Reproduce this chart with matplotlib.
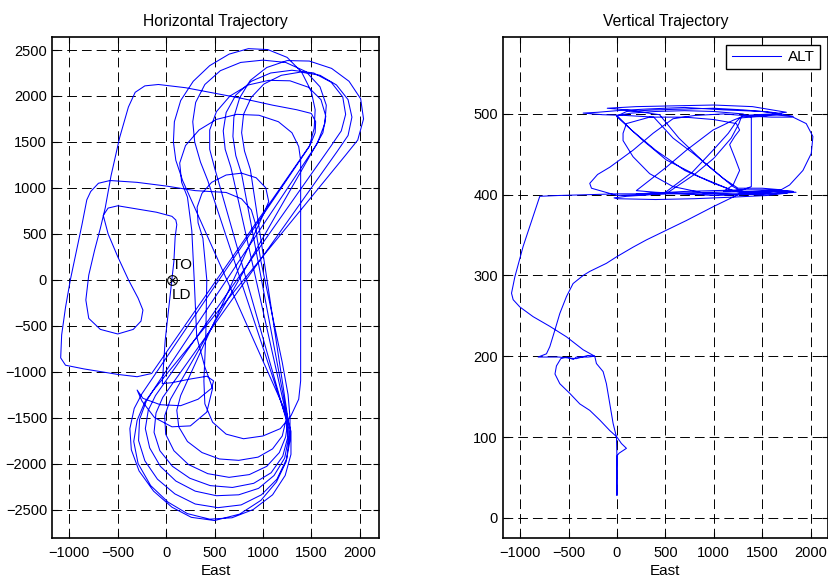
import numpy as np
import matplotlib
matplotlib.use("Agg")
import matplotlib.pyplot as plt

plt.rcParams['font.family'] = ['Liberation Sans', 'DejaVu Sans']
plt.rcParams['font.size'] = 10.5
plt.rcParams['lines.scale_dashes'] = False

# ---- horizontal track (east, north) ----
climb_e = [59, 80, 93, 110, 100, 60, -100, -300, -500, -600, -650, -600, -500, -390, -290, -240, -260, -340,
           -500, -680, -800, -830, -800, -740, -680, -630, -570, -480, -390, -320, -220, -80, 200, 500, 800,
           1100, 1350, 1500, 1545, 1540, 1490]
climb_n = [0, 200, 464, 600, 650, 690, 735, 770, 805, 780, 700, 500, 250, 0, -200, -330, -450, -540,
           -590, -540, -420, -220, 50, 320, 560, 780, 1130, 1550, 1880, 2040, 2110, 2125, 2090, 2030, 1970,
           1900, 1850, 1810, 1720, 1600, 1470]

box_e = [-150, -300, -500, -850, -1040, -1090, -1080, -1040, -990, -930, -870, -820, -780, -700, -580, -300,
         0, 300, 620, 780, 880, 920, 940, 980, 1040, 1120, 1200, 1260, 1280]
box_n = [-1020, -1055, -1030, -970, -930, -850, -600, -300, 0, 300, 600, 870, 960, 1050, 1080, 1060,
         1020, 970, 950, 880, 760, 620, 450, 200, -100, -500, -900, -1250, -1500]

lapA_bot_e = [1280, 1240, 1140, 980, 760, 500, 260, 60, -130, -280, -360, -375, -330, -250]
lapA_bot_n = [-1750, -1980, -2200, -2400, -2550, -2620, -2585, -2475, -2300, -2080, -1850, -1620, -1400, -1240]
lapA_top_e = [1480, 1530, 1540, 1500, 1400, 1250, 1050, 850, 650, 450, 280, 150, 85, 75, 100, 170]
lapA_top_n = [1450, 1650, 1850, 2050, 2260, 2420, 2505, 2515, 2455, 2330, 2160, 1950, 1720, 1500, 1300, 1080]

lapB_bot_e = [1240, 1290, 1290, 1230, 1100, 900, 680, 450, 220, 20, -160, -290, -335, -300, -220, -130]
lapB_bot_n = [-1450, -1650, -1900, -2130, -2340, -2500, -2590, -2605, -2545, -2420, -2240, -2000, -1760,
              -1530, -1330, -1200]
lapB_top_e = [1850, 1980, 2040, 2010, 1890, 1710, 1480, 1250, 1040, 870, 760, 700, 690, 720, 780]
lapB_top_n = [1350, 1520, 1750, 1970, 2160, 2300, 2380, 2385, 2310, 2170, 1980, 1770, 1560, 1350, 1150]

lapC_bot_e = [1250, 1275, 1245, 1145, 985, 775, 535, 300, 90, -90, -220, -285, -275, -205, -120]
lapC_bot_n = [-1480, -1700, -1950, -2170, -2340, -2450, -2480, -2440, -2330, -2170, -1970, -1750, -1520,
              -1320, -1180]
lapC_top_e = [1560, 1640, 1655, 1590, 1445, 1235, 1000, 770, 560, 400, 305, 275, 295, 355, 430]
lapC_top_n = [1480, 1700, 1900, 2100, 2265, 2365, 2390, 2365, 2275, 2125, 1930, 1720, 1500, 1280, 1080]

lapD_bot_e = [1240, 1265, 1225, 1115, 955, 750, 520, 300, 100, -60, -170, -215, -185, -110]
lapD_bot_n = [-1500, -1720, -1940, -2130, -2270, -2340, -2350, -2300, -2190, -2030, -1830, -1620, -1420, -1260]
lapD_top_e = [1700, 1810, 1855, 1825, 1705, 1525, 1300, 1080, 880, 720, 620, 590, 610, 670]
lapD_top_n = [1450, 1620, 1800, 1990, 2150, 2250, 2280, 2250, 2160, 2010, 1820, 1620, 1420, 1220]

lapE_bot_e = [1250, 1255, 1205, 1085, 905, 685, 455, 245, 65, -65, -125, -105, -35]
lapE_bot_n = [-1510, -1720, -1920, -2100, -2215, -2260, -2240, -2160, -2030, -1860, -1660, -1450, -1280]
lapE_top_e = [1770, 1880, 1920, 1880, 1760, 1590, 1390, 1190, 1010, 880, 800, 780, 810, 870]
lapE_top_n = [1400, 1570, 1770, 1960, 2120, 2225, 2260, 2225, 2130, 1985, 1800, 1600, 1400, 1200]

lapF_bot_e = [1260, 1235, 1170, 1040, 860, 650, 430, 230, 80, -5, -15, 45]
lapF_bot_n = [-1520, -1710, -1880, -2030, -2120, -2150, -2110, -2010, -1860, -1680, -1480, -1300]
lapF_top_e = [1530, 1620, 1650, 1600, 1470, 1280, 1060, 850, 660, 520, 450, 450, 500]
lapF_top_n = [1430, 1600, 1780, 1960, 2095, 2165, 2170, 2120, 2000, 1830, 1630, 1420, 1220]

lapG_bot_e = [1240, 1200, 1100, 950, 750, 550, 370, 220, 130, 110, 150]
lapG_bot_n = [-1520, -1700, -1840, -1930, -1965, -1950, -1880, -1760, -1600, -1420, -1260]
small_top_e = [1000, 1060, 1030, 930, 780, 620, 470, 370, 320, 330, 380]
small_top_n = [700, 850, 1000, 1110, 1160, 1140, 1060, 940, 790, 620, 450]

drop_e = [420, 410, 390, 400, 480, 620, 800, 1000, 1180, 1290, 1370, 1390, 1390, 1390, 1370, 1300, 1160,
          960, 730, 520, 340, 200, 140, 160, 220]
drop_n = [0, -600, -1100, -1350, -1550, -1680, -1730, -1700, -1620, -1480, -1300, -1100, 0, 1300, 1450,
          1600, 1720, 1790, 1800, 1745, 1630, 1460, 1270, 1060, 900]

final_e = [265, 290, 316, 400, 480, 420, 250, 60, -120, -250, -300, -240, -60, 150, 330, 470, 490, 420,
           250, 60, -40, -10, 59]
final_n = [536, 0, -620, -950, -1180, -1440, -1590, -1600, -1500, -1320, -1200, -1290, -1360, -1370, -1300,
           -1180, -1100, -1050, -1080, -1120, -1130, -660, 0]

east = np.concatenate([climb_e, box_e, lapA_bot_e, lapA_top_e, lapB_bot_e, lapB_top_e, lapC_bot_e,
                       lapC_top_e, lapD_bot_e, lapD_top_e, lapE_bot_e, lapE_top_e, lapF_bot_e, lapF_top_e,
                       lapG_bot_e, small_top_e, drop_e, final_e])
north = np.concatenate([climb_n, box_n, lapA_bot_n, lapA_top_n, lapB_bot_n, lapB_top_n, lapC_bot_n,
                        lapC_top_n, lapD_bot_n, lapD_top_n, lapE_bot_n, lapE_top_n, lapF_bot_n, lapF_top_n,
                        lapG_bot_n, small_top_n, drop_n, final_n])

to_e, to_n = 59, 0

# ---- vertical track (east, altitude) ----
up_e = [0, 0, 2, 22, 98, 46, 0, -74, -177, -281, -384, -487, -590, -640, -625, -580, -520, -450, -420, -300,
        -230, -300, -420, -600, -814, -728, -693, -642, -590, -521, -453, -349, -281, -109, -5, 166, 304, 510,
        648, 717, 992, 1198, 1267]
up_h = [28, 60, 77, 80, 86, 92, 100, 108, 121, 133, 141, 154, 166, 178, 188, 197, 199, 196, 199, 199,
        200, 201, 197, 199, 199, 203, 212, 232, 253, 274, 290, 300, 305, 315, 323, 335, 344, 356,
        364, 368, 385, 397, 401]

pass1_e = [1450, 1700, 1820, 1600, 1300, 1000, 700, 400, 200, 510, 717, 992, 1198, 1300, 1600, 1820, 1600,
           1300, 1000, 700, 400, 100, -5, 270, 510, 855, 1198, 1300, 1500, 1760, 1550, 1200, 800, 400, 0,
           -30, 100, 350, 490, 780, 992, 1150, 1230, 1270]
pass1_h = [403, 405, 404, 402, 400, 399, 401, 403, 405, 434, 455, 480, 492, 497, 499, 497, 502,
           505, 507, 506, 505, 503, 497, 467, 443, 422, 405, 402, 401, 402, 399, 397, 395, 394, 395,
           396, 398, 400, 402, 428, 455, 476, 490, 495]

pass2_e = [1500, 1700, 1500, 1100, 700, 300, 0, -200, -349, -150, 100, 380, 580, 800, 1000, 1200, 1300,
           1500, 1818, 1600, 1300, 1000, 700, 400, 200, 530, 800, 1000, 1180, 1260, 1290, 1600, 1750, 1400,
           1000, 600, 200, -100, 100, 440, 640, 900, 1100, 1250]
pass2_h = [497, 500, 503, 505, 508, 506, 504, 502, 501, 499, 498, 496, 470, 450, 430, 410, 403,
           404, 404, 406, 406, 405, 404, 402, 401, 403, 425, 445, 470, 488, 498, 500, 502, 509,
           511, 510, 509, 507, 505, 499, 470, 440, 420, 408]

pass3_e = [1500, 1700, 1400, 1000, 600, 300, 0, -177, -263, -281, -200, -74, 166, 373, 579, 800, 1100,
           1405, 1600, 1818, 1955, 2024, 2007, 1921, 1783, 1680, 1500, 1200, 900, 579, 338, 166, 63, 63,
           98, 338, 700, 1000, 1233, 1267, 1216, 1164, 1220, 1267, 1200, 1100, 1300, 1388, 1388, 1300,
           1000, 700, 400, 150, 0, 150, 400, 700, 1000, 1200, 1400, 1650, 1850, 1600]
pass3_h = [408, 406, 404, 403, 402, 400, 399, 405, 408, 414, 425, 434, 455, 476, 494, 498, 500,
           497, 496, 496, 488, 472, 451, 430, 412, 405, 402, 401, 402, 410, 426, 447, 467, 476,
           488, 496, 496, 493, 488, 480, 472, 462, 445, 430, 412, 404, 406, 410, 496, 500,
           503, 504, 503, 501, 498, 480, 455, 430, 414, 405, 403, 404, 403, 401]

down_e = [1300, 900, 500, 0, -300, -600, -797, -866, -969, -1055, -1089, -1072, -1003, -866, -693, -521,
          -349, -229, -212, -143, -109, -74, -40, -5, 0, 0]
down_h = [400, 401, 401, 401, 400, 399, 398, 373, 336, 298, 278, 270, 261, 249, 237, 224,
          208, 200, 191, 181, 166, 141, 117, 100, 75, 28]

alt_e = np.concatenate([up_e, pass1_e, pass2_e, pass3_e, down_e])
alt_h = np.concatenate([up_h, pass1_h, pass2_h, pass3_h, down_h])

xticks = np.arange(-1000, 2001, 500)

fig = plt.figure(figsize=(8.29, 5.77), dpi=100)
ax1 = fig.add_axes([0.0627, 0.0676, 0.3945, 0.868])
ax2 = fig.add_axes([0.6064, 0.0676, 0.3924, 0.868])

ax1.plot(east, north, color='b', linewidth=0.75)
ax1.plot(to_e, to_n, 'o', color='k', mfc='none', markersize=7, markeredgewidth=0.8)
ax1.plot(to_e, to_n, 'x', color='k', markersize=5, markeredgewidth=0.8)
ax1.text(to_e, 80, 'TO', ha='left', va='bottom', fontsize=11)
ax1.text(to_e, -95, 'LD', ha='left', va='top', fontsize=11)
ax1.set_xlim(-1180, 2200)
ax1.set_ylim(-2810, 2640)
ax1.set_xticks(xticks)
ax1.set_yticks(np.arange(-2500, 2501, 500))
ax1.set_title('Horizontal Trajectory', fontsize=11.3, pad=8)
ax1.set_xlabel('East', fontsize=11, labelpad=3)

ax2.plot(alt_e, alt_h, color='b', linewidth=0.75, label='ALT')
ax2.set_xlim(-1180, 2180)
ax2.set_ylim(-25, 595)
ax2.set_xticks(xticks)
ax2.set_yticks(np.arange(0, 501, 100))
ax2.set_title('Vertical Trajectory', fontsize=11.3, pad=8)
ax2.set_xlabel('East', fontsize=11, labelpad=3)
leg = ax2.legend(loc='upper right', fancybox=False, framealpha=1, edgecolor='k',
                 borderaxespad=0.5, handlelength=3.2, handletextpad=0.5, borderpad=0.35, fontsize=11)
leg.get_frame().set_linewidth(1.0)

for ax in (ax1, ax2):
    ax.grid(True, color='k', linestyle=(0, (7, 3.6)), linewidth=0.7)
    ax.tick_params(direction='in', length=4, top=True, right=True, width=0.8)
    ax.tick_params(axis='x', pad=6)
    for sp in ax.spines.values():
        sp.set_linewidth(1.2)

fig.savefig('out.png', dpi=100)
